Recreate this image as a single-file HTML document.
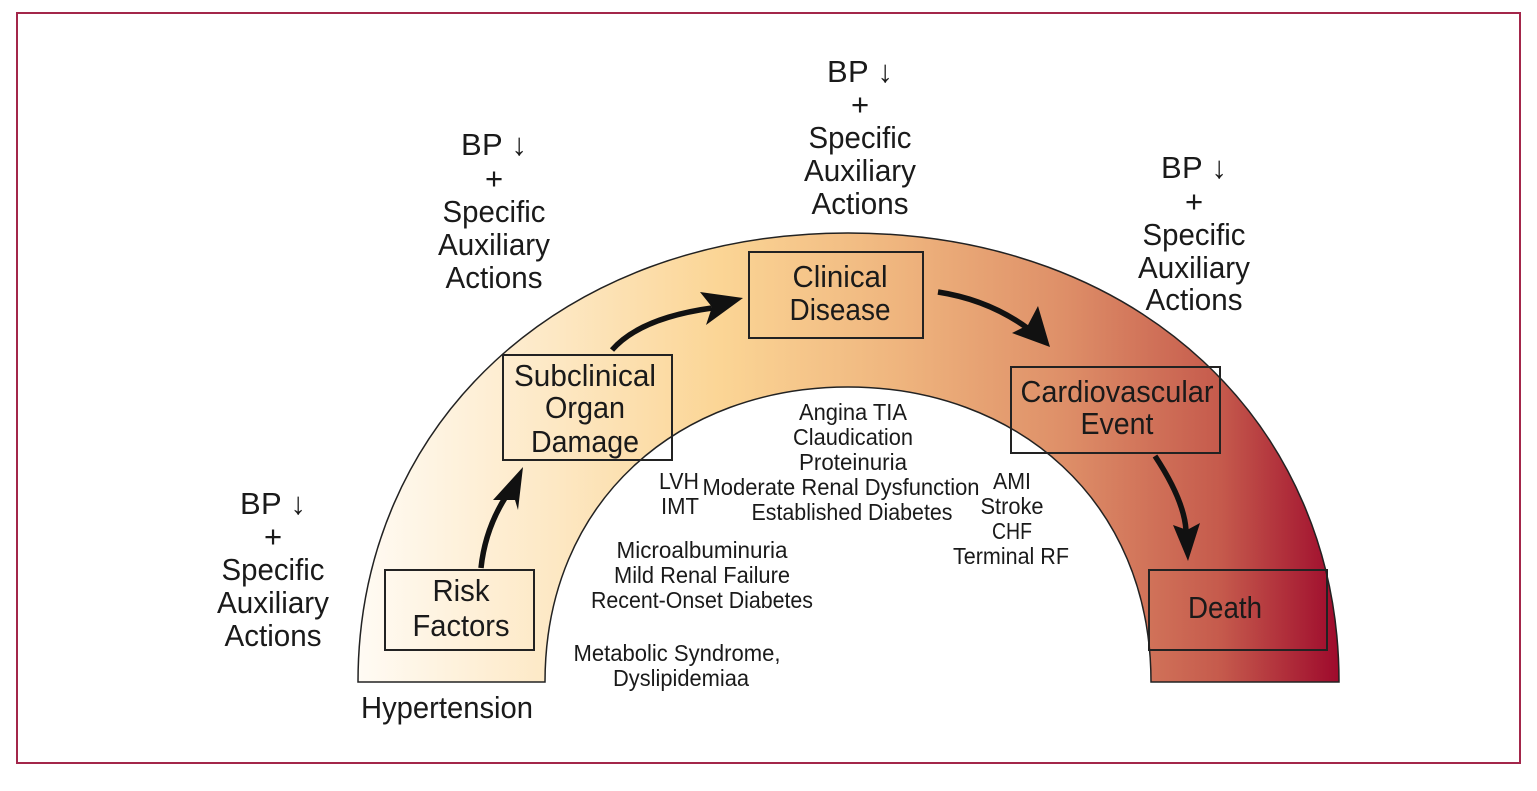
<!DOCTYPE html>
<html><head><meta charset="utf-8"><style>
html,body{margin:0;padding:0;background:#fff;width:1537px;height:791px;overflow:hidden}
svg text{font-family:"Liberation Sans Narrow","Liberation Sans",sans-serif;fill:#1a1a1a;text-anchor:middle}
.b{font-size:31px}.s{font-size:23px}
</style></head><body>
<svg width="1537" height="791" viewBox="0 0 1537 791" xmlns="http://www.w3.org/2000/svg">
<defs>
<linearGradient id="g" x1="358" y1="0" x2="1339" y2="0" gradientUnits="userSpaceOnUse">
<stop offset="0" stop-color="#fffbf4"/>
<stop offset="0.2" stop-color="#fde8c4"/>
<stop offset="0.37" stop-color="#fbd595"/>
<stop offset="0.55" stop-color="#efb57e"/>
<stop offset="0.72" stop-color="#de8f68"/>
<stop offset="0.88" stop-color="#c55a4c"/>
<stop offset="1" stop-color="#9e0a2c"/>
</linearGradient>
</defs>
<rect x="17" y="13" width="1503" height="750" fill="none" stroke="#a3264a" stroke-width="2"/>
<path d="M358,682 C358,425 560,233 848,233 C1140,233 1339,425 1339,682 L1151,682 C1151,500 1016,387 848,387 C680,387 545,500 545,682 Z" fill="url(#g)" stroke="#222" stroke-width="1.5"/>
<g fill="none" stroke="#222" stroke-width="2">
<rect x="385" y="570" width="149" height="80"/>
<rect x="503" y="355" width="169" height="105"/>
<rect x="749" y="252" width="174" height="86"/>
<rect x="1011" y="367" width="209" height="86"/>
<rect x="1149" y="570" width="178" height="80"/>
</g>
<g fill="none" stroke="#111" stroke-width="5.5">
<path d="M481,568 Q485,530 505,498"/>
<path d="M612,350 Q640,318 712,308"/>
<path d="M938,292 Q990,300 1030,330"/>
<path d="M1155,456 Q1184,500 1186,530"/>
</g>
<g fill="#111">
<polygon points="523,467 493,500 515,500 518,510"/>
<polygon points="743,298 700,292 712,307 706,325"/>
<polygon points="1050,347 1038,306 1028,325 1012,333"/>
<polygon points="1188,561 1173,525 1187,530 1200,523"/>
</g>
<g class="b">
<text x="494" y="155" textLength="66">BP ↓</text><text x="494" y="189">+</text>
<text x="494" y="222" textLength="103" lengthAdjust="spacingAndGlyphs">Specific</text>
<text x="494" y="255" textLength="112" lengthAdjust="spacingAndGlyphs">Auxiliary</text>
<text x="494" y="288" textLength="97" lengthAdjust="spacingAndGlyphs">Actions</text>
<text x="860" y="82" textLength="66">BP ↓</text><text x="860" y="115">+</text>
<text x="860" y="148" textLength="103" lengthAdjust="spacingAndGlyphs">Specific</text>
<text x="860" y="181" textLength="112" lengthAdjust="spacingAndGlyphs">Auxiliary</text>
<text x="860" y="214" textLength="97" lengthAdjust="spacingAndGlyphs">Actions</text>
<text x="1194" y="178" textLength="66">BP ↓</text><text x="1194" y="212">+</text>
<text x="1194" y="245" textLength="103" lengthAdjust="spacingAndGlyphs">Specific</text>
<text x="1194" y="278" textLength="112" lengthAdjust="spacingAndGlyphs">Auxiliary</text>
<text x="1194" y="310" textLength="97" lengthAdjust="spacingAndGlyphs">Actions</text>
<text x="273" y="514" textLength="66">BP ↓</text><text x="273" y="547">+</text>
<text x="273" y="580" textLength="103" lengthAdjust="spacingAndGlyphs">Specific</text>
<text x="273" y="613" textLength="112" lengthAdjust="spacingAndGlyphs">Auxiliary</text>
<text x="273" y="646" textLength="97" lengthAdjust="spacingAndGlyphs">Actions</text>
<text x="447" y="718" textLength="172" lengthAdjust="spacingAndGlyphs">Hypertension</text>
<text x="461" y="601" textLength="57" lengthAdjust="spacingAndGlyphs">Risk</text>
<text x="461" y="636" textLength="97" lengthAdjust="spacingAndGlyphs">Factors</text>
<text x="585" y="386" textLength="142" lengthAdjust="spacingAndGlyphs">Subclinical</text>
<text x="585" y="418" textLength="80" lengthAdjust="spacingAndGlyphs">Organ</text>
<text x="585" y="452" textLength="108" lengthAdjust="spacingAndGlyphs">Damage</text>
<text x="840" y="287" textLength="95" lengthAdjust="spacingAndGlyphs">Clinical</text>
<text x="840" y="320" textLength="101" lengthAdjust="spacingAndGlyphs">Disease</text>
<text x="1117" y="402" textLength="193" lengthAdjust="spacingAndGlyphs">Cardiovascular</text>
<text x="1117" y="434" textLength="73" lengthAdjust="spacingAndGlyphs">Event</text>
<text x="1225" y="618" textLength="74" lengthAdjust="spacingAndGlyphs">Death</text>
</g>
<g class="s">
<text x="853" y="420" textLength="108" lengthAdjust="spacingAndGlyphs">Angina TIA</text>
<text x="853" y="445" textLength="120" lengthAdjust="spacingAndGlyphs">Claudication</text>
<text x="853" y="470" textLength="108" lengthAdjust="spacingAndGlyphs">Proteinuria</text>
<text x="841" y="495" textLength="277" lengthAdjust="spacingAndGlyphs">Moderate Renal Dysfunction</text>
<text x="852" y="520" textLength="201" lengthAdjust="spacingAndGlyphs">Established Diabetes</text>
<text x="679" y="489" textLength="40" lengthAdjust="spacingAndGlyphs">LVH</text>
<text x="680" y="514" textLength="38" lengthAdjust="spacingAndGlyphs">IMT</text>
<text x="1012" y="489" textLength="38" lengthAdjust="spacingAndGlyphs">AMI</text>
<text x="1012" y="514" textLength="63" lengthAdjust="spacingAndGlyphs">Stroke</text>
<text x="1012" y="539" textLength="40" lengthAdjust="spacingAndGlyphs">CHF</text>
<text x="1011" y="564" textLength="116" lengthAdjust="spacingAndGlyphs">Terminal RF</text>
<text x="702" y="558" textLength="171" lengthAdjust="spacingAndGlyphs">Microalbuminuria</text>
<text x="702" y="583" textLength="176" lengthAdjust="spacingAndGlyphs">Mild Renal Failure</text>
<text x="702" y="608" textLength="222" lengthAdjust="spacingAndGlyphs">Recent-Onset Diabetes</text>
<text x="677" y="661" textLength="207" lengthAdjust="spacingAndGlyphs">Metabolic Syndrome,</text>
<text x="681" y="686" textLength="136" lengthAdjust="spacingAndGlyphs">Dyslipidemiaa</text>
</g>
</svg>
</body></html>
